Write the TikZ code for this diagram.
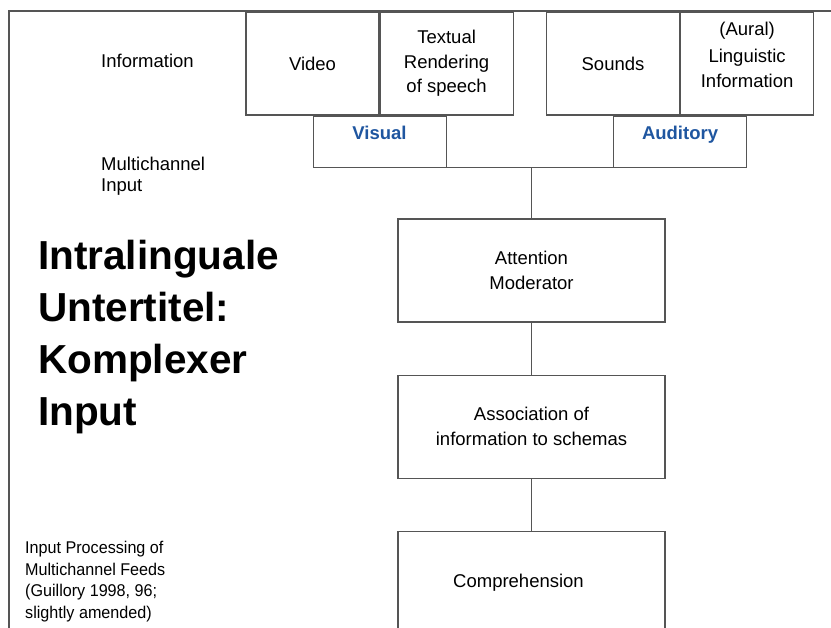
\documentclass[tikz,border=0pt]{standalone}
\usepackage{fontspec}
\setmainfont{Liberation Sans}
\newfontfamily\narrowfont[FakeStretch=0.95]{Liberation Sans}
\usetikzlibrary{positioning}
\definecolor{lngray}{HTML}{555555}
\definecolor{chblue}{HTML}{1F56A0}
\tikzset{
  link/.style={draw=lngray, line width=1.1pt},
  infobox/.style={draw=lngray, line width=1.1pt, minimum width=133pt, minimum height=103pt,
    inner sep=0pt, align=center, font=\fontsize{18.5}{24.5}\selectfont},
  chanbox/.style={draw=lngray, line width=1.1pt, minimum width=133pt, minimum height=51pt,
    inner sep=0pt, text depth=17pt, text=chblue, font=\fontsize{18.5}{22}\selectfont\bfseries},
  stagebox/.style={draw=lngray, line width=1.1pt, minimum width=267pt, minimum height=103pt,
    inner sep=0pt, align=center, font=\fontsize{18.5}{24.5}\selectfont},
  sidenote/.style={anchor=north west, align=left, inner sep=0pt, font=\fontsize{18.5}{21}\selectfont},
  bigtitle/.style={anchor=north west, align=left, inner sep=0pt, font=\fontsize{40.5}{52}\selectfont\bfseries},
  srcnote/.style={anchor=north west, align=left, inner sep=0pt, font=\narrowfont\fontsize{17}{21.7}\selectfont}
}
\begin{document}
\begin{tikzpicture}[x=1pt, y=-1pt, node distance=52pt]
  \useasboundingbox (0,0) rectangle (831,628);
  % frame
  \draw[link] (9,628) -- (9,11) -- (831,11);

  % information sources
  \node[infobox] (video) at (312.5,63.5) {Video};
  \node[infobox, right=0pt of video] (textual) {Textual\\Rendering\\of speech};
  \node[infobox] (sounds) at (613,63.5) {Sounds};
  \node[infobox, right=0pt of sounds, text depth=17pt] (aural) {(Aural)\\[2.5pt]Linguistic\\Information};

  % channels
  \node[chanbox, below=0pt of video.south east] (visual) {Visual};
  \node[chanbox, below=0pt of sounds.south east] (auditory) {Auditory};
  \draw[link] (visual.south east) -- (auditory.south west);

  % processing stages
  \node[stagebox] (attn) at (531.5,270.5) {Attention\\Moderator};
  \node[stagebox, below=of attn] (assoc) {Association of\\information to schemas};
  \node[stagebox, below=of assoc] (compr) {Comprehension\hspace*{26pt}};

  \draw[link] (attn.north |- visual.south) -- (attn.north);
  \draw[link] (attn) -- (assoc);
  \draw[link] (assoc) -- (compr);

  % side texts
  \node[sidenote, anchor=west] (info) at (101,61) {Information};
  \node[sidenote] (multi) at (101,157) {Multichannel\\Input};
  \node[bigtitle] (title) at (38,239.5) {Intralinguale\\Untertitel:\\Komplexer\\Input};
  \node[srcnote] (source) at (25,541) {Input Processing of\\Multichannel Feeds\\(Guillory 1998, 96;\\slightly amended)};
\end{tikzpicture}
\end{document}
